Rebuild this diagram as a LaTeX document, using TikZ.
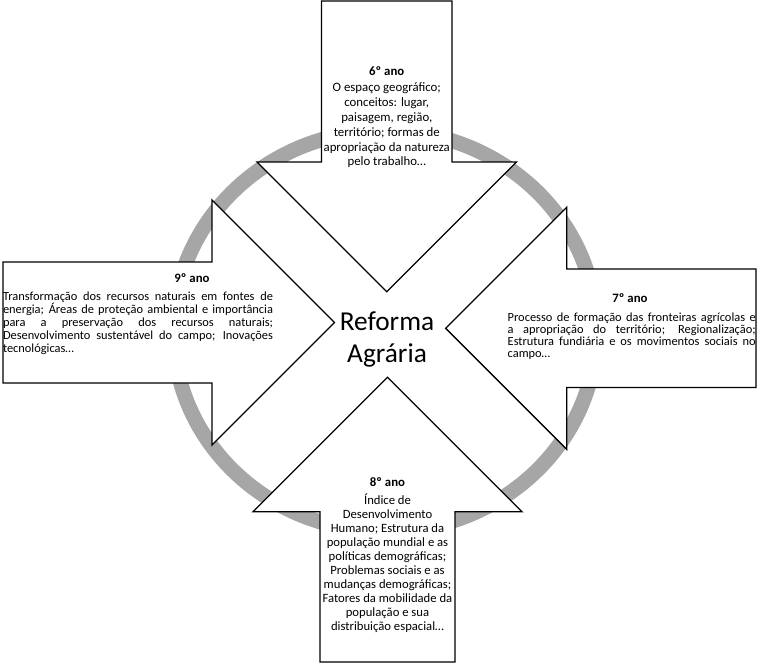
\documentclass[tikz,border=0pt]{standalone}
\usepackage{fontspec}
\setmainfont{Carlito}
\definecolor{ringgray}{RGB}{166,166,166}
\hbadness=10000
\begin{document}
\begin{tikzpicture}[x=0.75pt,y=-0.75pt,
  arrowshape/.style={draw=black, fill=white, line width=1pt, line join=miter},
  headtxt/.style={inner sep=0, font=\bfseries\fontsize{9.6pt}{11pt}\selectfont},
  bodytxt/.style={inner sep=0, align=center},
  justtxt/.style={inner sep=0, align=justify},
  bigtxt/.style={inner sep=0, anchor=base, font=\fontsize{20.5pt}{24pt}\selectfont}]
\useasboundingbox (0,0) rectangle (760,664);
% ring
\draw[ringgray, line width=11.25pt] (385,331) ellipse [x radius=211.5, y radius=200.5];
% top arrow (6º ano)
\draw[arrowshape] (321.5,1) -- (452,1) -- (452,162) -- (516.5,162) -- (386.75,291.75)
  -- (257,162) -- (321.5,162) -- cycle;
% left arrow (9º ano)
\draw[arrowshape] (3,262) -- (212,262) -- (212,200) -- (334.5,322.5) -- (212,445)
  -- (212,383) -- (3,383) -- cycle;
% right arrow (7º ano)
\draw[arrowshape] (756,269) -- (566.7,269) -- (566.7,207.3) -- (445.7,328.3) -- (566.7,449.3)
  -- (566.7,387.5) -- (756,387.5) -- cycle;
% bottom arrow (8º ano)
\draw[arrowshape] (320,662) -- (320,511.7) -- (253,511.7) -- (387.5,377.2) -- (522,511.7)
  -- (455,511.7) -- (455,662) -- cycle;
% centre
\node[bigtxt] (ref) at (387,330) {Reforma};
\node[bigtxt] (agr) at (387,362) {Agrária};
% 6º ano
\node[headtxt] (h6) at (386.75,71) {6º ano};
\node[bodytxt, font=\fontsize{9.6pt}{11.1pt}\selectfont] (b6) at (386.75,125.5)
  {O espaço geográfico;\\conceitos: lugar,\\paisagem, região,\\território; formas de\\apropriação da natureza\\pelo trabalho…};
% 9º ano
\node[headtxt] (h9) at (192,278) {9º ano};
\node[justtxt, text width=202.5pt, font=\fontsize{9.3pt}{9.75pt}\selectfont] (b9) at (138,323.5)
  {Transformação dos recursos naturais em fontes de\linebreak energia; Áreas de proteção ambiental e importância\linebreak para a preservação dos recursos naturais;\linebreak Desenvolvimento sustentável do campo; Inovações\linebreak tecnológicas…};
% 7º ano
\node[headtxt] (h7) at (630,298) {7º ano};
\node[justtxt, text width=186pt, font=\fontsize{9.3pt}{9pt}\selectfont] (b7) at (631.7,336)
  {Processo de formação das fronteiras agrícolas e\linebreak a apropriação do território; Regionalização;\linebreak Estrutura fundiária e os movimentos sociais no\linebreak campo…};
% 8º ano
\node[headtxt] (h8) at (387.5,482) {8º ano};
\node[bodytxt, font=\fontsize{9.5pt}{10.47pt}\selectfont] (b8) at (387.5,563.5)
  {Índice de\\Desenvolvimento\\Humano; Estrutura da\\população mundial e as\\políticas demográficas;\\Problemas sociais e as\\mudanças demográficas;\\Fatores da mobilidade da\\população e sua\\distribuição espacial…};
\end{tikzpicture}
\end{document}
